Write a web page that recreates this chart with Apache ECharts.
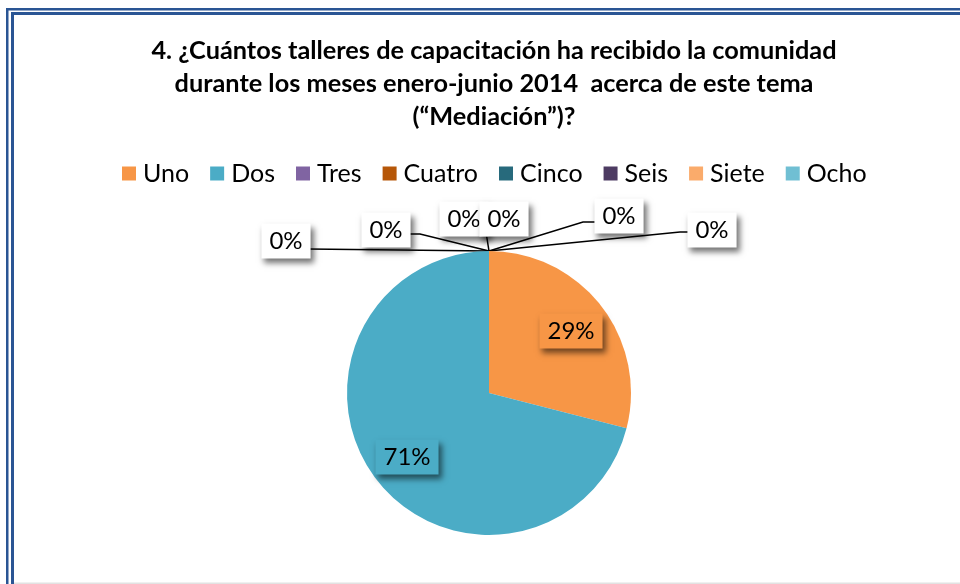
<!DOCTYPE html>
<html>
<head>
<meta charset="utf-8">
<script src="https://cdn.jsdelivr.net/npm/echarts@6/dist/echarts.min.js"></script>
<style>html,body{margin:0;padding:0;background:#fff}#chart{width:960px;height:584px}</style>
</head>
<body>
<div id="chart"></div>
<script>
// ---- data ----
const titleLines = [
  '4. ¿Cuántos talleres de capacitación ha recibido la comunidad',
  'durante los meses enero-junio 2014  acerca de este tema',
  '(“Mediación”)?'
];
const categories = ['Uno', 'Dos', 'Tres', 'Cuatro', 'Cinco', 'Seis', 'Siete', 'Ocho'];
const values = [29, 71, 0, 0, 0, 0, 0, 0];

// ---- styles ----
const colors = ['#F79646', '#4BACC6', '#8064A2', '#B65708', '#276A7C', '#4D3B62', '#FAAB6B', '#70BFD3'];
const FONT = 'Lato';
// label centre positions and callout line points (layout, not data)
const labelSpec = [
  { x: 571, y: 331, inside: true },
  { x: 407, y: 457, inside: true },
  { x: 286, y: 241, line: [[308, 249]] },
  { x: 386, y: 230, line: [[420, 234], [409, 234]] },
  { x: 464, y: 219, line: [[485, 226]] },
  { x: 504, y: 219, line: null },
  { x: 619, y: 216, line: [[583, 222], [595, 222]] },
  { x: 712, y: 230, line: [[680, 232], [689, 232]] }
];
const CX = 489, CY = 393, R = 142;

const data = categories.map((name, i) => {
  const spec = labelSpec[i];
  return {
    name: name,
    value: values[i],
    itemStyle: { color: colors[i] },
    label: {
      backgroundColor: spec.inside ? colors[i] : '#ffffff'
    },
    labelLine: { show: !!spec.line }
  };
});

const chart = echarts.init(document.getElementById('chart'), null, { renderer: 'canvas' });
chart.setOption({
  animation: false,
  backgroundColor: '#ffffff',
  title: {
    text: titleLines.join('\n'),
    left: 489,
    top: 29,
    textAlign: 'center',
    textStyle: { fontFamily: FONT, fontWeight: 'bold', fontSize: 25.3, lineHeight: 33, color: '#000' }
  },
  legend: {
    data: categories,
    left: 122,
    top: 161,
    padding: 0,
    itemWidth: 14,
    itemHeight: 14,
    itemGap: 21,
    icon: 'rect',
    textStyle: { fontFamily: FONT, fontSize: 25, color: '#000', padding: [0, 0, 0, 2] }
  },
  graphic: [
    { type: 'rect', silent: true, shape: { x: 6, y: 8, width: 2.5, height: 600 }, style: { fill: '#2A5594' } },
    { type: 'rect', silent: true, shape: { x: 6, y: 8, width: 960, height: 2.5 }, style: { fill: '#2A5594' } },
    { type: 'rect', silent: true, shape: { x: 11, y: 12, width: 3, height: 600 }, style: { fill: '#2A5594' } },
    { type: 'rect', silent: true, shape: { x: 11, y: 12, width: 960, height: 3 }, style: { fill: '#2A5594' } },
    { type: 'rect', silent: true, shape: { x: 14, y: 582.5, width: 950, height: 1.5 }, style: { fill: '#e2e2e2' } }
  ],
  series: [{
    type: 'pie',
    center: [CX, CY],
    radius: R,
    startAngle: 90,
    clockwise: true,
    avoidLabelOverlap: false,
    stillShowZeroSum: true,
    minShowLabelAngle: 0,
    data: data,
    itemStyle: { borderWidth: 0 },
    label: {
      show: true,
      position: 'outside',
      formatter: p => Math.round(p.percent) + '%',
      fontFamily: FONT,
      fontSize: 24,
      color: '#000',
      padding: [6, 8, 5, 8],
      shadowColor: 'rgba(0,0,0,0.55)',
      shadowBlur: 6,
      shadowOffsetX: 3,
      shadowOffsetY: 4
    },
    labelLine: { show: true, length: 10, length2: 10, lineStyle: { color: '#000', width: 1.5 } },
    labelLayout: function (params) {
      const spec = labelSpec[params.dataIndex];
      const out = { x: spec.x, y: spec.y, align: 'center', verticalAlign: 'middle' };
      if (spec.line) {
        const anchor = [CX, CY - R];
        out.labelLinePoints = [anchor].concat(spec.line);
        if (out.labelLinePoints.length === 2) out.labelLinePoints.push(spec.line[0]);
      }
      return out;
    }
  }]
});
</script>
</body>
</html>
